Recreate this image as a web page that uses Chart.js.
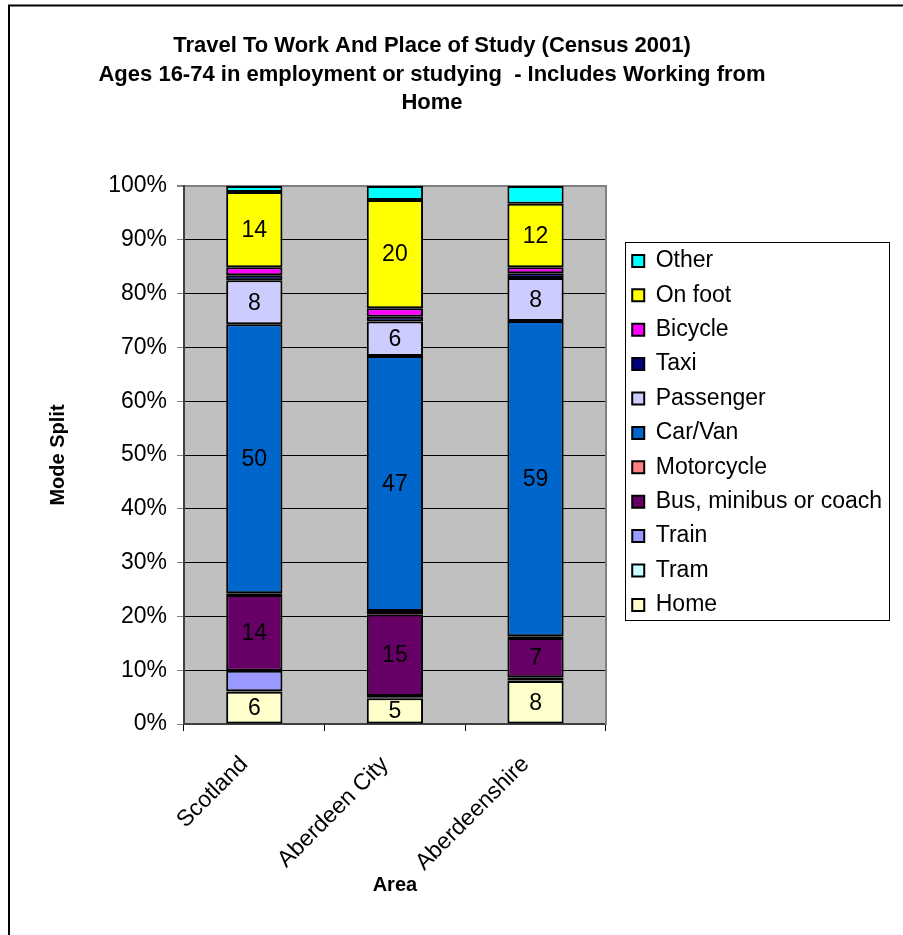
<!DOCTYPE html>
<html>
<head>
<meta charset="utf-8">
<script src="https://cdn.jsdelivr.net/npm/chart.js@4.4.0/dist/chart.umd.min.js"></script>
<style>
  html, body { margin: 0; padding: 0; background: #fff; }
  #wrap { width: 903px; height: 935px; }
</style>
</head>
<body>
<div id="wrap"><canvas id="modeChart" width="903" height="935"></canvas></div>
<script>
// chart values (percent of people)
const areas = ['Scotland', 'Aberdeen City', 'Aberdeenshire'];
const home       = [6.0, 4.8, 8.0];
const tram       = [0.1, 0.1, 0.1];
const train      = [3.8, 0.3, 0.6];
const bus        = [14.1, 15.2, 7.3];
const motorcycle = [0.3, 0.6, 0.3];
const carVan     = [50.0, 47.4, 58.6];
const passenger  = [8.2, 6.4, 8.0];
const taxi       = [0.9, 0.9, 0.9];
const bicycle    = [1.5, 1.6, 1.1];
const onFoot     = [14.0, 20.1, 11.8];
const other      = [1.1, 2.6, 3.3];
const yTicks = [0, 10, 20, 30, 40, 50, 60, 70, 80, 90, 100];
const titleLines = [
  'Travel To Work And Place of Study (Census 2001)',
  'Ages 16-74 in employment or studying  - Includes Working from',
  'Home'
];

const FONT = "'Liberation Sans', Arial, sans-serif";

function ds(label, data, color) {
  return {
    label: label,
    data: data,
    backgroundColor: color,
    borderColor: '#000',
    borderWidth: 2,
    borderSkipped: false,
    categoryPercentage: 1,
    barPercentage: 0.4
  };
}

// frame, plot background, title, legend box, value labels
const decor = {
  id: 'decor',
  beforeDraw(chart) {
    const {ctx, chartArea: a} = chart;
    ctx.save();
    ctx.fillStyle = '#fff';
    ctx.fillRect(0, 0, chart.width, chart.height);
    ctx.fillStyle = '#C0C0C0';
    ctx.fillRect(a.left, a.top, a.right - a.left, a.bottom - a.top);
    ctx.restore();
  },
  afterDatasetsDraw(chart) {
    const {ctx} = chart;
    ctx.save();
    ctx.font = '23px ' + FONT;
    ctx.fillStyle = '#000';
    ctx.textAlign = 'center';
    ctx.textBaseline = 'middle';
    chart.data.datasets.forEach((d, i) => {
      const meta = chart.getDatasetMeta(i);
      meta.data.forEach((bar, j) => {
        const v = d.data[j];
        if (v >= 4.5) {
          ctx.fillText(Math.round(v), bar.x, (bar.y + bar.base) / 2 + 1);
        }
      });
    });
    ctx.restore();
  },
  afterDraw(chart) {
    const {ctx} = chart;
    ctx.save();
    // outer frame
    ctx.strokeStyle = '#000';
    ctx.lineWidth = 2;
    ctx.strokeRect(9, 5.5, 1000, 1000);
    // title
    ctx.font = 'bold 22px ' + FONT;
    ctx.fillStyle = '#000';
    ctx.textAlign = 'center';
    ctx.textBaseline = 'middle';
    titleLines.forEach((t, i) => ctx.fillText(t, 432, 46 + i * 28.5));
    // legend border
    const lg = chart.legend;
    const hb = lg.legendHitBoxes;
    if (hb && hb.length) {
      const top = hb[0].top - 7;
      const last = hb[hb.length - 1];
      const bottom = last.top + last.height + 4;
      const left = hb[0].left - 7;
      const right = lg.right - 3;
      ctx.strokeStyle = '#000';
      ctx.lineWidth = 1;
      ctx.strokeRect(Math.round(left) + 0.5, Math.round(top) + 0.5, Math.round(right - left), Math.round(bottom - top));
    }
    ctx.restore();
  }
};

new Chart(document.getElementById('modeChart'), {
  type: 'bar',
  data: {
    labels: areas,
    datasets: [
      ds('Home', home, '#FFFFCC'),
      ds('Tram', tram, '#CCFFFF'),
      ds('Train', train, '#9999FF'),
      ds('Bus, minibus or coach', bus, '#660066'),
      ds('Motorcycle', motorcycle, '#FF8080'),
      ds('Car/Van', carVan, '#0066CC'),
      ds('Passenger', passenger, '#CCCCFF'),
      ds('Taxi', taxi, '#000080'),
      ds('Bicycle', bicycle, '#FF00FF'),
      ds('On foot', onFoot, '#FFFF00'),
      ds('Other', other, '#00FFFF')
    ]
  },
  options: {
    responsive: false,
    animation: false,
    layout: { padding: { left: 10, top: 186, right: 11, bottom: 0 } },
    plugins: {
      title: { display: false },
      tooltip: { enabled: false },
      legend: {
        position: 'right',
        align: 'start',
        fullSize: false,
        reverse: true,
        maxWidth: 320,
        title: { display: true, text: ' ', font: { size: 10 }, padding: { top: 0, bottom: 40 } },
        labels: {
          color: '#000',
          font: { family: FONT, size: 23 },
          boxWidth: 12,
          boxHeight: 12,
          padding: 11.4
        }
      }
    },
    scales: {
      x: {
        stacked: true,
        grid: { drawOnChartArea: false, drawTicks: true, tickLength: 7, tickColor: '#000', offset: true },
        border: { display: true, color: '#404040', width: 2 },
        ticks: {
          color: '#000',
          font: { family: FONT, size: 23 },
          minRotation: 45,
          maxRotation: 45,
          padding: 20,
          labelOffset: -10
        },
        title: {
          display: true,
          text: 'Area',
          color: '#000',
          font: { family: FONT, size: 20, weight: 'bold' },
          padding: { top: 0, bottom: 38 }
        },
        afterFit(s) { s.height = 211; }
      },
      y: {
        stacked: true,
        min: 0,
        max: 100,
        afterBuildTicks(s) { s.ticks = yTicks.map(v => ({ value: v })); },
        grid: {
          color: c => (c.tick && c.tick.value === 100 ? '#808080' : '#000'),
          lineWidth: c => (c.tick && c.tick.value === 100 ? 2 : 1),
          tickLength: 7,
          tickColor: '#808080'
        },
        border: { display: true, color: '#404040', width: 2 },
        ticks: {
          color: '#000',
          font: { family: FONT, size: 23 },
          padding: 10,
          callback: v => v + '%'
        },
        title: {
          display: true,
          text: 'Mode Split',
          color: '#000',
          font: { family: FONT, size: 20, weight: 'bold' },
          padding: { top: 36, bottom: 0 }
        },
        afterFit(s) { s.width = 174; }
      },
      y2: {
        position: 'right',
        display: true,
        grid: { display: false, drawTicks: false },
        ticks: { display: false },
        border: { display: true, color: '#808080', width: 2 },
        afterFit(s) { s.width = 15; }
      }
    }
  },
  plugins: [decor]
});
</script>
</body>
</html>
